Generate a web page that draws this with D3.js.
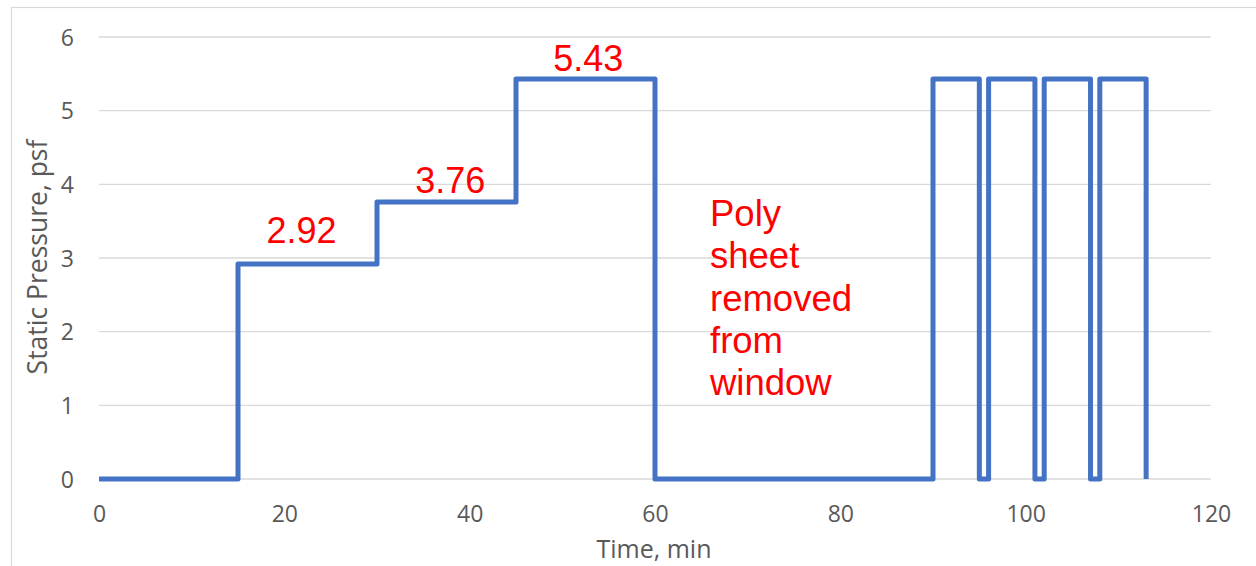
<!DOCTYPE html>
<html><head><meta charset="utf-8">
<script src="https://cdn.jsdelivr.net/npm/d3@7"></script>
<style>body{margin:0;background:#fff}svg{display:block}</style>
</head><body><svg id="c" width="1256" height="566"></svg>
<script>
const times = [0,15,15,30,30,45,45,60,60,90,90,95,95,96,96,101,101,102,102,107,107,108,108,113,113];
const pressures = [0,0,2.92,2.92,3.76,3.76,5.43,5.43,0,0,5.43,5.43,0,0,5.43,5.43,0,0,5.43,5.43,0,0,5.43,5.43,0];
const xTicks = [0,20,40,60,80,100,120];
const yTicks = [0,1,2,3,4,5,6];
const stepLabels = ["2.92","3.76","5.43"];
const stepLabelValues = [2.92,3.76,5.43];
const noteLines = ["Poly","sheet","removed","from","window"];
const xTitle = "Time, min";
const yTitle = "Static Pressure, psf";

const svg = d3.select("#c");
const x = d3.scaleLinear().domain([0,120]).range([99,1211]);
const y = d3.scaleLinear().domain([0,6]).range([479,37]);

// outer border
svg.append("rect").attr("x",11.5).attr("y",7.5).attr("width",1260).attr("height",570)
  .attr("fill","none").attr("stroke","#d9d9d9").attr("stroke-width",1.2);

// gridlines
svg.append("g").selectAll("line").data(yTicks).join("line")
  .attr("x1",x(0)).attr("x2",x(120)).attr("y1",d=>y(d)).attr("y2",d=>y(d))
  .attr("stroke","#d9d9d9").attr("stroke-width",1.3);

const tickFont = "'Open Sans', 'Noto Sans', sans-serif";
const yAxis = d3.axisLeft(y).tickValues(yTicks).tickFormat(d3.format("d")).tickSize(0).tickPadding(25);
svg.append("g").attr("transform",`translate(${x(0)},0)`).call(yAxis)
  .call(g=>g.select(".domain").remove())
  .call(g=>g.selectAll("text").attr("font-family",tickFont).attr("font-size",23).attr("fill","#595959").attr("dy","0.36em"));
const xAxis = d3.axisBottom(x).tickValues(xTicks).tickFormat(d3.format("d")).tickSize(0);
svg.append("g").attr("transform",`translate(0,${y(0)})`).call(xAxis)
  .call(g=>g.select(".domain").remove())
  .call(g=>g.selectAll("text").attr("font-family",tickFont).attr("font-size",23).attr("fill","#595959").attr("dy",null).attr("y",43));

svg.append("text").attr("x",654).attr("y",558).attr("text-anchor","middle")
  .attr("font-family",tickFont).attr("font-size",25).attr("fill","#595959").text(xTitle);
svg.append("text").attr("transform",`translate(47,${y(3)-1}) rotate(-90)`).attr("text-anchor","middle")
  .attr("font-family",tickFont).attr("font-size",26.5).attr("fill","#595959").text(yTitle);

// series
const pts = times.map((t,i)=>[t,pressures[i]]);
svg.append("path").datum(pts)
  .attr("d",d3.line().x(d=>x(d[0])).y(d=>y(d[1])))
  .attr("fill","none").attr("stroke","#4472C4").attr("stroke-width",5).attr("stroke-linejoin","round");

// step labels (anchored in data units)
const labFont = "'Liberation Sans', Arial, sans-serif";
const labelAt = [[21.85,3.20],[37.9,3.88],[52.8,5.54]];
svg.append("g").selectAll("text").data(stepLabels).join("text")
  .attr("x",(d,i)=>x(labelAt[i][0])).attr("y",(d,i)=>y(labelAt[i][1]))
  .attr("text-anchor","middle").attr("font-family",labFont).attr("font-size",36).attr("fill","#ff0000")
  .text(d=>d);

// note
svg.append("g").selectAll("text").data(noteLines).join("text")
  .attr("x",710).attr("y",(d,i)=>226+i*42.3)
  .attr("font-family",labFont).attr("font-size",36.5).attr("fill","#ff0000").text(d=>d);
</script></body></html>
